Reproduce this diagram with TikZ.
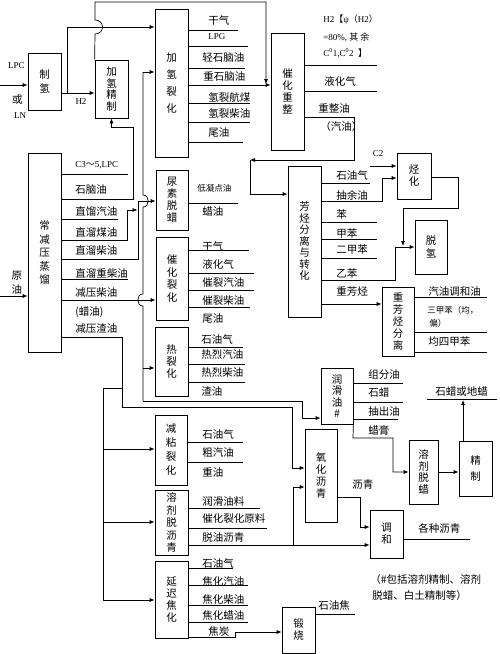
\documentclass[tikz,border=0pt]{standalone}
\usepackage{fontspec}
\setmainfont{Liberation Serif}
\newfontfamily\cjk{Noto Sans CJK SC}
\usetikzlibrary{arrows.meta}

\begin{document}
\begin{tikzpicture}[
  x=1pt, y=-1pt,
  line width=0.7pt,
  unit/.style={draw, inner sep=0pt, align=center, font=\cjk\fontsize{10.5}{12}\selectfont},
  vsp/.style={font=\cjk\fontsize{10.5}{#1}\selectfont},
  lbl/.style={anchor=west, inner sep=0pt, font=\cjk\fontsize{10.5}{12}\selectfont},
  tiny/.style={anchor=west, inner sep=0pt, font=\cjk\fontsize{8.5}{10}\selectfont},
  latin/.style={inner sep=0pt, font=\fontsize{9}{11}\selectfont},
  arr/.style={-{Latex[length=5pt,width=4pt]}},
]
  \useasboundingbox (0,0) rectangle (500,654);

  % process units
  \node[unit, vsp=14,   minimum width=33pt, minimum height=57pt]  (zhiqing)  at (44.5,81.5)  {制\\氢};
  \node[unit, vsp=11.5, minimum width=33pt, minimum height=58pt]  (jqjz)     at (111.5,89)   {加\\氢\\精\\制};
  \node[unit, vsp=17,   minimum width=33pt, minimum height=148pt] (jqlh)     at (171.5,83)   {加\\氢\\裂\\化};
  \node[unit, vsp=13.5, minimum width=33pt, minimum height=199pt] (cjy)      at (44.5,252.5) {常\\减\\压\\蒸\\馏};
  \node[unit, vsp=12,   minimum width=32pt, minimum height=60pt]  (nsql)     at (172,200)    {尿\\素\\脱\\蜡};
  \node[unit, vsp=12.5, minimum width=32pt, minimum height=83pt]  (chlh)     at (172,278.5)  {催\\化\\裂\\化};
  \node[unit, vsp=12,   minimum width=33pt, minimum height=69pt]  (rlh)      at (171.5,361.5){热\\裂\\化};
  \node[unit, vsp=14,   minimum width=32pt, minimum height=70pt]  (jnlh)     at (171,450)    {减\\粘\\裂\\化};
  \node[unit, vsp=12.5, minimum width=33pt, minimum height=65pt]  (rjtlq)    at (171.5,522.5){溶\\剂\\脱\\沥\\青};
  \node[unit, vsp=12,   minimum width=33pt, minimum height=77pt]  (ycjh)     at (171.5,599.5){延\\迟\\焦\\化};
  \node[unit, vsp=12,   minimum width=33pt, minimum height=117pt] (cjcz)     at (287.5,91.5) {催\\化\\重\\整};
  \node[unit, vsp=11.5, minimum width=33pt, minimum height=151pt] (fxfl)     at (304.5,241.5){芳\\烃\\分\\离\\与\\转\\化};
  \node[unit, vsp=12,   minimum width=34pt, minimum height=46pt]  (tinghua)  at (414,176)    {烃\\化};
  \node[unit, vsp=13,   minimum width=32pt, minimum height=54pt]  (tuoqing)  at (431,247)    {脱\\氢};
  \node[unit, vsp=12,   minimum width=32pt, minimum height=69pt]  (zfxfl)    at (398,321.5)  {重\\芳\\烃\\分\\离};
  \node[unit, vsp=11.5, minimum width=32pt, minimum height=56pt]  (rhy)      at (337,396)    {润\\滑\\油\\\#};
  \node[unit, vsp=12,   minimum width=32pt, minimum height=93pt]  (yhlq)     at (321,475.5)  {氧\\化\\沥\\青};
  \node[unit, vsp=11.5, minimum width=29pt, minimum height=64pt]  (rjtl)     at (423.5,472)  {溶\\剂\\脱\\蜡};
  \node[unit, vsp=16,   minimum width=33pt, minimum height=55pt]  (jingzhi)  at (475.5,468.5){精\\制};
  \node[unit, vsp=12,   minimum width=33pt, minimum height=48pt]  (tiaohe)   at (386.5,534)  {调\\和};
  \node[unit, vsp=12,   minimum width=33pt, minimum height=46pt]  (duanshao) at (298.5,630)  {锻\\烧};

  % feeds
  \node[latin] (lpc) at (16.5,66) {LPC};
  \node[lbl, anchor=center] (huo) at (17.5,100) {或};
  \node[latin] (ln) at (20,116) {LN};
  \node[latin] (h2) at (81,102) {H2};
  \node[lbl, anchor=center] (yuan) at (17,276) {原};
  \node[lbl, anchor=center] (you) at (17,289) {油};
  \coordinate (lpcin) at (0,85);
  \coordinate (yyin) at (0,296);

  % product labels
  \foreach \t/\x/\y [count=\i] in {干气/208/20, 轻石脑油/202/58, 重石脑油/203/77, 氢裂航煤/208/97, 氢裂柴油/208/113, 尾油/208/133}
    \node[lbl] (hc\i) at (\x,\y) {\t};
  \node[latin, anchor=west] (hclpg) at (208,37) {LPG};

  \node[latin, anchor=west] (cd0) at (75,165) {C3{\cjk ～}5,LPC};
  \foreach \t/\y [count=\i] in {石脑油/190, 直馏汽油/212, 直溜煤油/232, 直溜柴油/250, 直溜重柴油/273, 减压柴油/293, (蜡油)/312, 减压渣油/329}
    \node[lbl] (cd\i) at (75,\y) {\t};

  \node[tiny] (dw1) at (197,188) {低凝点油};
  \node[lbl] (dw2) at (202,212) {蜡油};
  \foreach \t/\y [count=\i] in {干气/246, 液化气/264, 催裂汽油/283, 催裂柴油/301, 尾油/319}
    \node[lbl] (fcc\i) at (202,\y) {\t};
  \foreach \t/\y [count=\i] in {石油气/339, 热烈汽油/355, 热烈柴油/373, 渣油/391}
    \node[lbl] (tc\i) at (201,\y) {\t};
  \foreach \t/\y [count=\i] in {石油气/434, 粗汽油/453, 重油/472}
    \node[lbl] (vb\i) at (202,\y) {\t};
  \foreach \t/\y [count=\i] in {润滑油料/501, 催化裂化原料/519, 脱油沥青/538}
    \node[lbl] (sda\i) at (202,\y) {\t};
  \foreach \t/\y [count=\i] in {石油气/563, 焦化汽油/581, 焦化柴油/599, 焦化蜡油/615}
    \node[lbl] (dc\i) at (202,\y) {\t};
  \node[lbl] (dc5) at (208,631) {焦炭};

  \node[latin, anchor=west] (rf1) at (323,20) {H2{\cjk 【}ψ{\cjk （}H2{\cjk ）}};
  \node[latin, anchor=west] (rf2) at (323,37) {=80\%, {\cjk 其 余}};
  \node[latin, anchor=west] (rf3) at (323,53) {C\textsuperscript{0}1,C\textsuperscript{0}2\ \ {\cjk 】}};
  \node[lbl] (rf4) at (324,81) {液化气};
  \node[lbl] (rf5) at (318,108) {重整油};
  \node[lbl] (rf6) at (320,127) {（汽油）};

  \foreach \t/\y [count=\i] in {石油气/175, 抽余油/195, 苯/214, 甲苯/234, 二甲苯/250, 乙苯/273, 重芳烃/292}
    \node[lbl] (ar\i) at (336,\y) {\t};
  \node[latin] (c2) at (378,154) {C2};
  \coordinate (c2in) at (370,166);

  \node[lbl] (hs1) at (428,292) {汽油调和油};
  \node[tiny] (hs2) at (427,310) {三甲苯（均，};
  \node[tiny] (hs3) at (429,323) {偏）};
  \node[lbl] (hs4) at (428,342) {均四甲苯};

  \foreach \t/\y [count=\i] in {组分油/375, 石蜡/393, 抽出油/412, 蜡膏/430}
    \node[lbl] (lo\i) at (368,\y) {\t};
  \node[lbl] (wax) at (435,392) {石蜡或地蜡};
  \node[lbl] (lq) at (352,485) {沥青};
  \node[lbl] (gzlq) at (418,528) {各种沥青};
  \node[lbl] (sjj) at (318,605) {石油焦};
  \node[lbl] (note1) at (370,580) {（\#包括溶剂精制、溶剂};
  \node[lbl] (note2) at (372,596) {脱蜡、白土精制等）};

  % product lines
  \foreach \y/\x in {30/238, 46/248, 68/245, 103/250, 122/250, 142/243}
    \draw (jqlh.east |- 0,\y) -- (\x,\y);
  \foreach \y/\x in {174/128, 219/118, 279/128}
    \draw (cjy.east |- 0,\y) -- (\x,\y);
  \draw (nsql.east |- 0,203) -- (238,203);
  \foreach \y/\x in {250/249, 273/254, 290/254, 307/250}
    \draw (chlh.east |- 0,\y) -- (\x,\y);
  \foreach \y/\x in {347/243, 364/245, 382/245}
    \draw (rlh.east |- 0,\y) -- (\x,\y);
  \foreach \y/\x in {442/243, 462/243}
    \draw (jnlh.east |- 0,\y) -- (\x,\y);
  \foreach \y/\x in {508/260, 528/267}
    \draw (rjtlq.east |- 0,\y) -- (\x,\y);
  \foreach \y/\x in {568/233, 585/248, 605/248, 622/248}
    \draw (ycjh.east |- 0,\y) -- (\x,\y);
  \foreach \y/\x in {65/377, 91/377}
    \draw (cjcz.east |- 0,\y) -- (\x,\y);
  \foreach \y/\x in {183/370, 222/377, 239/377, 258/377}
    \draw (fxfl.east |- 0,\y) -- (\x,\y);
  \foreach \y/\x in {297/487, 332/487, 352/487}
    \draw (zfxfl.east |- 0,\y) -- (\x,\y);
  \foreach \y/\x in {383/403, 402/403, 419/398}
    \draw (rhy.east |- 0,\y) -- (\x,\y);
  \draw (tiaohe.east |- 0,539) -- (470,539);
  \draw (duanshao.east |- 0,614) -- (355,614);
  \draw (427,399) -- (497,399);

  % hydrogen and naphtha
  \draw[arr] (lpcin) -- (zhiqing.west |- lpcin);
  \draw[arr] (zhiqing.east |- 0,93) -- (jqjz.west |- 0,93);
  \draw[arr] (67,93) |- (jqlh.west |- 0,27);
  \draw[arr] (jqjz.north west) -- (95,34) .. controls (105,34) and (105,20) .. (95,20) -- (95,2) -| (266,84);
  \draw[arr] (jqlh.east |- 0,85) -- (cjcz.west |- 0,85);
  \draw[arr] (cjy.east |- 0,199) -| (133,127) -| (jqjz.south);

  % distillates
  \draw[arr] (yyin) -- (cjy.west |- yyin);
  \draw[arr] (cjy.east |- 0,240) -| (127,210) -- (137.5,210);
  \draw[arr] (cjy.east |- 0,259) -| (138,201) -- (nsql.west |- 0,201);
  \draw (143,401) -- (143,306) .. controls (136,306) and (136,294) .. (143,294)
        -- (143,207) .. controls (150,207) and (150,195) .. (143,195) -- (143,72);
  \draw[arr] (143,72) -- (jqlh.west |- 0,72);
  \draw[arr] (143,368) -- (rlh.west |- 0,368);
  \draw[arr] (143,401) -| (302,418) -- (rhy.west |- 0,418);
  \draw[arr] (cjy.east |- 0,300) -- (chlh.west |- 0,300);

  % vacuum residue
  \draw[arr] (cjy.east |- 0,337) -| (122,407) -| (292,468) -- (yhlq.west |- 0,468);
  \draw (122,388) -| (103,600);
  \draw[arr] (103,449) -- (jnlh.west |- 0,449);
  \draw[arr] (103,522) -- (rjtlq.west |- 0,522);
  \draw[arr] (103,600) -- (ycjh.west |- 0,600);
  \draw (rjtlq.east |- 0,545) -- (293,545);
  \draw[arr] (293,545) |- (yhlq.west |- 0,487);
  \draw[arr] (293,545) -- (tiaohe.west |- 0,545);
  \draw[arr] (yhlq.east |- 0,497) -| (360,527) -- (tiaohe.west |- 0,527);
  \draw[arr] (ycjh.east |- 0,637) -| (235,632) -- (duanshao.west |- 0,632);

  % reformate and aromatics
  \draw[arr] (cjcz.east |- 0,117) -| (354,160) -- (250,160);
  \draw[arr] (250,160) |- (fxfl.west |- 0,194);
  \draw[arr] (c2in) -- (tinghua.west |- c2in);
  \draw[arr] (fxfl.east |- 0,201) -| (382,178) -- (tinghua.west |- 0,178);
  \draw[arr] (tinghua.east |- 0,177) -| (458,208) -| (403,246);
  \draw[arr] (fxfl.east |- 0,280) -| (395,247) -- (tuoqing.west |- 0,247);
  \draw[arr] (fxfl.east |- 0,304) -- (zfxfl.west |- 0,304);

  % lube oil
  \draw[arr] (rhy.south east) -- (353,438) -| (393,472) -- (rjtl.west |- 0,472);
  \draw[arr] (rjtl.east |- 0,472) -- (jingzhi.west |- 0,472);
  \draw[arr] (jingzhi.north -| 463,0) -- (463,400);
\end{tikzpicture}
\end{document}
